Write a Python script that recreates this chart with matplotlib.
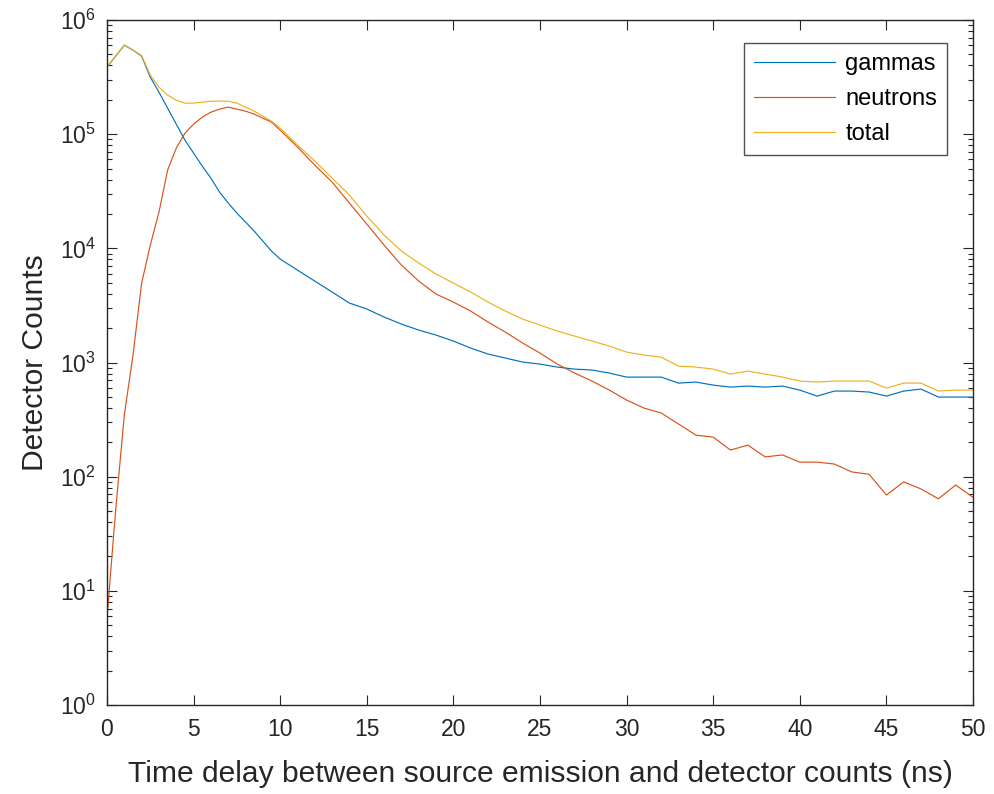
import matplotlib
matplotlib.use("Agg")
import matplotlib.pyplot as plt
from matplotlib.ticker import LogLocator, LogFormatterMathtext, NullFormatter

# ---- data ----
time_ns = [0, 0.5, 1, 1.5, 2, 2.5, 3, 3.5, 4, 4.5, 5, 5.5, 6, 6.5, 7, 7.5, 8, 8.5, 9, 9.5, 10,
           11, 12, 13, 14, 15, 16, 17, 18, 19, 20, 21, 22, 23, 24, 25, 26, 27, 28, 29, 30,
           31, 32, 33, 34, 35, 36, 37, 38, 39, 40, 41, 42, 43, 44, 45, 46, 47, 48, 49, 50]

gammas = [386500, 482000, 602000, 544500, 482000, 315800, 233300, 169000, 122400, 88700,
          68200, 52500, 41200, 31050, 24900, 20350, 16980, 14160, 11560, 9460, 8050,
          6440, 5160, 4140, 3314, 2940, 2500, 2170, 1923, 1738, 1541,
          1337, 1186, 1094, 1009, 968, 912, 875, 859, 808, 745,
          745, 745, 660, 674, 634, 609, 622, 609, 622, 573,
          508, 562, 562, 551, 508, 562, 585, 498, 498, 498]

neutrons = [5.8, 51, 347, 1161, 4960, 10670, 20760, 48400, 75500, 102000,
            122400, 141000, 156000, 165600, 172500, 165600, 159100, 149700, 138100, 127400, 108400,
            77000, 53500, 38000, 24900, 16300, 10670, 7130, 5160, 3975, 3380,
            2820, 2260, 1847, 1480, 1210, 968, 808, 688, 573, 469,
            399, 361, 289, 231, 222, 171, 189, 149, 155, 134,
            134, 129, 110, 105, 69, 90, 78, 64, 84.5, 66]

total = [386500, 482000, 602400, 545700, 487000, 328900, 258200, 219800, 198600, 187000,
         187000, 190800, 194600, 194600, 194600, 187000, 172500, 159100, 143900, 130000, 113000,
         80200, 58100, 41200, 29250, 19150, 13060, 9460, 7430, 5950, 4960,
         4140, 3380, 2820, 2400, 2128, 1884, 1703, 1541, 1393, 1234,
         1161, 1115, 930, 912, 875, 792, 841, 792, 745, 688,
         674, 688, 688, 688, 597, 660, 660, 562, 573, 573]

series_names = ["gammas", "neutrons", "total"]
series_colors = ["#0072BD", "#D95319", "#EDB120"]

# ---- style ----
plt.rcParams["font.family"] = ["Liberation Sans", "DejaVu Sans"]
plt.rcParams["mathtext.fontset"] = "custom"
plt.rcParams["mathtext.rm"] = "Liberation Sans"
plt.rcParams["mathtext.it"] = "Liberation Sans"
plt.rcParams["mathtext.default"] = "regular"

ax_col = (0.15, 0.15, 0.15)

fig = plt.figure(figsize=(9.95, 7.94), dpi=100)
ax = fig.add_axes([107 / 995, 1 - 705 / 794, (973 - 107) / 995, (705 - 20) / 794])

for name, ys, col in zip(series_names, [gammas, neutrons, total], series_colors):
    ax.plot(time_ns, ys, color=col, lw=0.85, label=name)

ax.set_yscale("log")
ax.set_xlim(0, 50)
ax.set_ylim(1, 1e6)
ax.set_xticks(range(0, 51, 5))
ax.yaxis.set_major_locator(LogLocator(base=10, numticks=10))
ax.yaxis.set_major_formatter(LogFormatterMathtext())
ax.yaxis.set_minor_locator(LogLocator(base=10, subs=range(2, 10), numticks=20))
ax.yaxis.set_minor_formatter(NullFormatter())
ax.xaxis.get_offset_text().set_visible(False)
ax.yaxis.get_offset_text().set_visible(False)

for s in ax.spines.values():
    s.set_color(ax_col)
    s.set_linewidth(1.0)
ax.tick_params(which="both", direction="in", top=True, right=True, colors=ax_col,
               labelcolor=ax_col, labelsize=16.5)
ax.tick_params(which="major", length=7, width=0.8)
ax.tick_params(which="minor", length=3.5, width=0.8)
ax.tick_params(axis="x", pad=9)
ax.tick_params(axis="y", pad=8)

ax.set_xlabel("Time delay between source emission and detector counts (ns)",
              fontsize=21.6, color=ax_col, labelpad=14)
ax.set_ylabel("Detector Counts", fontsize=21.6, color=ax_col, labelpad=8)

leg = ax.legend(loc="upper right", bbox_to_anchor=((947 - 107) / 866, (705 - 43) / 685),
                borderaxespad=0, fontsize=17, frameon=True, fancybox=False,
                edgecolor=ax_col, handlelength=3.4, borderpad=0.42, labelspacing=0.55,
                handletextpad=0.45)
leg.get_frame().set_linewidth(1.0)
for t in leg.get_texts():
    t.set_color("black")

fig.savefig("out.png", dpi=100, facecolor="white")
